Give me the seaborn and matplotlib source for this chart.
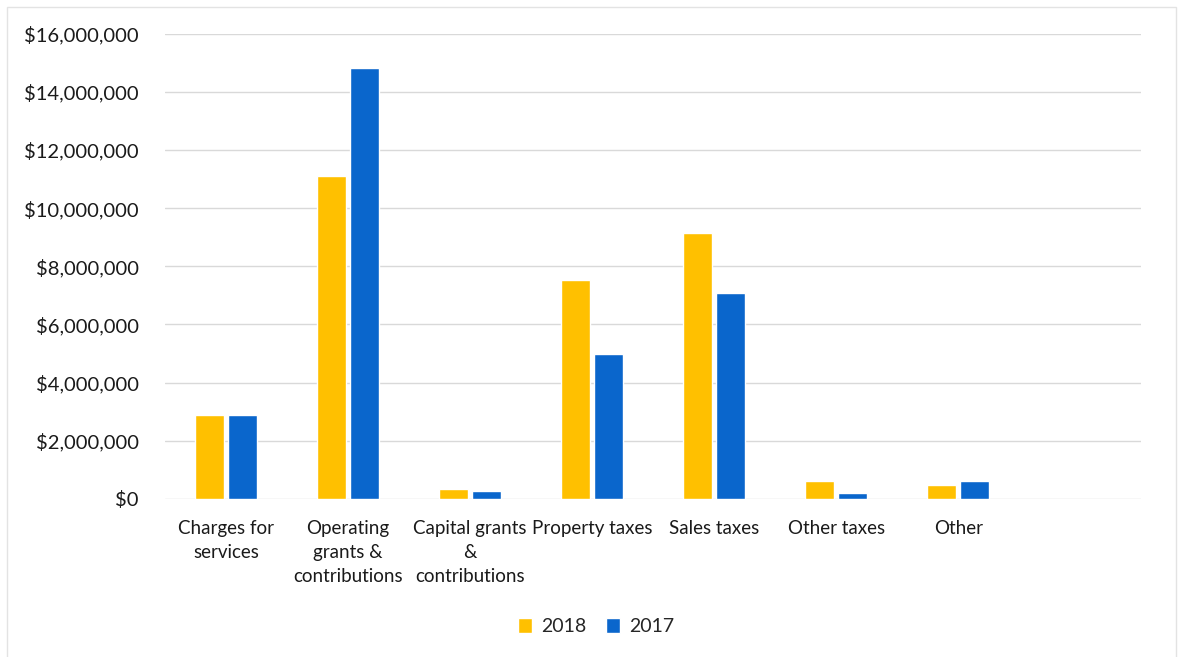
import pandas as pd
import matplotlib as mpl
import matplotlib.pyplot as plt
import matplotlib.ticker as mticker
import seaborn as sns

categories = ["Charges for\nservices", "Operating\ngrants &\ncontributions",
              "Capital grants\n&\ncontributions", "Property taxes",
              "Sales taxes", "Other taxes", "Other"]
rev_2018 = [2900000, 11100000, 340000, 7530000, 9150000, 610000, 480000]
rev_2017 = [2900000, 14800000, 280000, 5000000, 7090000, 210000, 610000]
years = ["2018", "2017"]
y_ticks = [0, 2000000, 4000000, 6000000, 8000000, 10000000, 12000000, 14000000, 16000000]

df = pd.DataFrame({
    "category": categories * 2,
    "value": rev_2018 + rev_2017,
    "year": [years[0]] * len(categories) + [years[1]] * len(categories),
})

sns.set_style("white")
plt.rcParams['font.family'] = ['Lato', 'DejaVu Sans']

fig = plt.figure(figsize=(11.78, 6.57), dpi=100)
ax = fig.add_axes([0.140, 0.2405, 0.829, 0.7085])

sns.barplot(data=df, x="category", y="value", hue="year", order=categories,
            hue_order=years, palette=["#FFC000", "#0A66CC"], saturation=1,
            width=0.54, gap=0.12, ax=ax, legend=True)

ax.set_xlim(-0.5, 7.5)
ax.set_ylim(0, 16000000)
ax.set_yticks(y_ticks)
ax.yaxis.set_major_formatter(mticker.FuncFormatter(lambda v, p: "${:,.0f}".format(v)))
ax.set_xlabel("")
ax.set_ylabel("")
ax.grid(axis="y", color="#D9D9D9", linewidth=1)
ax.set_axisbelow(True)
for s in ax.spines.values():
    s.set_visible(False)
ax.tick_params(axis="y", length=0, pad=19, labelsize=14.5, labelcolor="#1a1a1a")
ax.tick_params(axis="x", length=0, pad=15, labelsize=13.5, labelcolor="#1a1a1a")
for lab in ax.get_xticklabels():
    lab.set_linespacing(1.5)
    lab.set_verticalalignment("top")

ax.legend_.remove()
handles, labels = ax.get_legend_handles_labels()
fig.legend(handles, labels, loc="center", bbox_to_anchor=(0.506, 0.046), ncol=2,
           frameon=False, fontsize=14, handlelength=0.75, handleheight=0.75,
           handletextpad=0.45, columnspacing=1.0)

fig.patches.append(mpl.patches.Rectangle((0.006, -0.01), 0.992, 0.999, transform=fig.transFigure,
                                         fill=False, edgecolor="#E3E3E3", linewidth=1))

plt.savefig("out.png", dpi=100)
